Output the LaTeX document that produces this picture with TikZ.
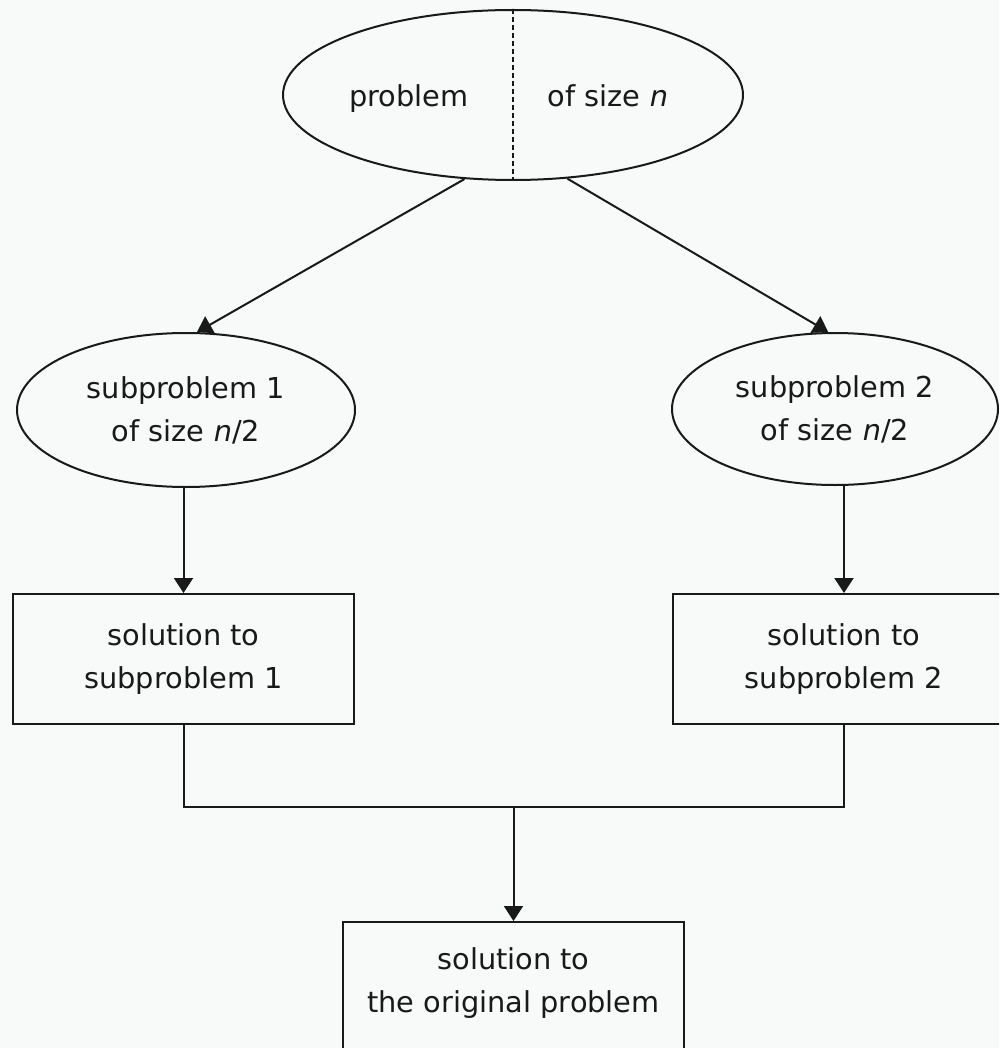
\documentclass[tikz,border=0pt]{standalone}
\usepackage{fontspec}
\setmainfont{DejaVu Sans}
\usetikzlibrary{shapes.geometric,arrows.meta,calc}
\definecolor{bg}{RGB}{247,250,248}
\definecolor{ink}{RGB}{25,25,25}
\begin{document}
\begin{tikzpicture}[x=1pt,y=-1pt,
  line/.style={draw=ink,line width=2pt},
  arr/.style={line,-{Triangle[length=15pt,width=19pt]}},
  txt/.style={inner sep=0pt,align=center,text=ink,font=\fontsize{28.8}{43}\selectfont},
  oval/.style={ellipse,draw=ink,line width=2pt,txt},
  box/.style={rectangle,draw=ink,line width=2pt,txt}]
\clip (0,0) rectangle (999,1048);
\fill[bg] (0,0) rectangle (999,1048);
% top problem
\node[oval, minimum width=460pt, minimum height=170pt] (top) at (513,95) {};
\draw[ink, line width=1.4pt, dash pattern=on 5pt off 3pt] (top.north) -- (top.south);
\node[txt, anchor=base] (lhalf) at (409,107) {problem};
\node[txt, anchor=base] (rhalf) at (608,107) {of size \textit{n}};
% subproblems
\node[oval, minimum width=338pt, minimum height=154pt] (sub1) at (186,410) {subproblem 1\\of size \textit{n}/2};
\node[oval, minimum width=326pt, minimum height=152pt] (sub2) at (835,409) {subproblem 2\\of size \textit{n}/2};
% solutions
\node[box, minimum width=341pt, minimum height=130pt] (sol1) at (183.5,659) {solution to\\subproblem 1};
\node[box, minimum width=342pt, minimum height=130pt] (sol2) at (844,659) {solution to\\subproblem 2};
% final
\node[box, minimum width=341pt, minimum height=180pt, anchor=north] (final) at (513.5,921) {};
\node[txt] (finaltext) at (513.5,983) {solution to\\the original problem};
\coordinate (join) at (513.5,807);
% connectors
\draw[arr] (top.-120.5) -- (sub1.82.6);
\draw[arr] (top.-57.1) -- (sub2.95);
\draw[arr] (sub1.south -| sol1.north) -- (sol1.north);
\draw[arr] (sub2.south -| sol2.north) -- (sol2.north);
\draw[line] (sol1.south) |- (join) -| (sol2.south);
\draw[arr] (join) -- (final.north);
\end{tikzpicture}
\end{document}
